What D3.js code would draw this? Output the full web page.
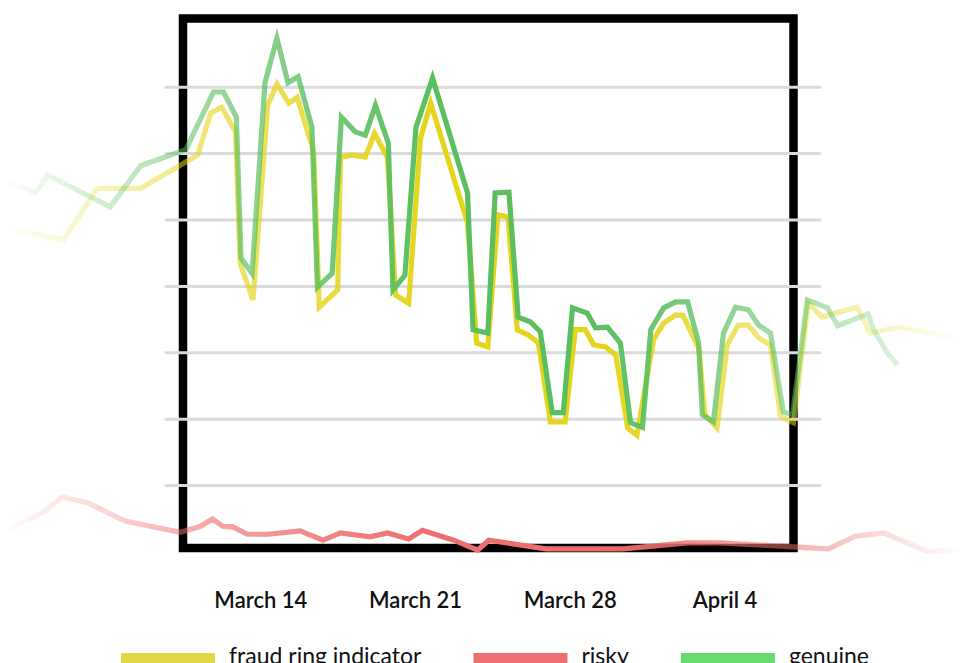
<!DOCTYPE html>
<html>
<head>
<meta charset="utf-8">
<script src="https://cdn.jsdelivr.net/npm/d3@7"></script>
<style>
  body { margin: 0; background: #fff; }
  svg { display: block; font-family: Lato, "Noto Sans", sans-serif; }
</style>
</head>
<body>
<div id="chart"></div>
<script>
// timestamps are "MM-DD HH" (2022), values on a 0-800 scale
var fraudTimes = ["03-02 13","03-05 02","03-06 15","03-08 14","03-11 04","03-11 18","03-12 06","03-12 21","03-13 02","03-13 16",
    "03-14 08","03-14 18","03-15 07","03-15 16","03-16 10","03-16 16","03-17 12","03-17 15","03-18 04","03-18 18",
    "03-19 04","03-19 18","03-20 03","03-20 17","03-21 06","03-21 17","03-23 09","03-23 19","03-24 07","03-24 18",
    "03-25 05","03-25 15","03-26 03","03-26 14","03-27 03","03-27 19","03-28 06","03-28 17","03-29 02","03-29 15",
    "03-30 02","03-30 15","03-31 01","03-31 19","04-01 06","04-01 19","04-02 03","04-02 20","04-03 03","04-03 16",
    "04-04 03","04-04 15","04-05 02","04-05 13","04-06 02","04-06 13","04-07 03","04-07 19","04-08 10","04-10 00",
    "04-10 14","04-11 23","04-13 18","04-14 23"];
var fraudValues = [487,469,547,547,597,660,669,632,434,379,
    672,704,675,684,602,368,394,594,597,594,
    630,593,386,374,623,675,495,314,308,507,
    504,334,326,314,195,195,334,334,311,308,
    296,186,175,319,344,356,356,306,206,186,
    311,341,341,322,311,203,194,374,353,368,
    329,338,326,319];

var genuineTimes = ["03-02 11","03-03 20","03-04 09","03-07 05","03-08 14","03-10 15","03-11 21","03-12 08","03-12 22","03-13 03",
    "03-13 15","03-14 05","03-14 18","03-15 06","03-15 17","03-16 08","03-16 14","03-17 06","03-17 16","03-18 07",
    "03-18 18","03-19 05","03-19 19","03-20 00","03-20 13","03-21 01","03-21 19","03-23 09","03-23 15","03-24 07",
    "03-24 15","03-25 06","03-25 16","03-26 05","03-26 16","03-27 05","03-27 17","03-28 03","03-28 19","03-29 04",
    "03-29 17","03-30 07","03-30 18","03-31 07","03-31 16","04-01 06","04-01 19","04-02 08","04-02 20","04-03 00",
    "04-03 12","04-03 23","04-04 12","04-05 02","04-05 13","04-06 02","04-06 16","04-07 02","04-07 18","04-08 16",
    "04-09 03","04-10 12","04-10 18","04-11 09","04-11 20"];
var genuineValues = [559,540,567,519,581,605,692,692,654,442,
    419,706,773,706,715,639,398,419,654,632,
    627,672,615,394,416,639,713,540,334,329,
    540,541,353,346,331,209,209,367,359,337,
    338,314,194,187,334,367,376,376,314,206,
    195,329,368,364,341,329,210,206,379,367,
    340,358,334,299,281];

var riskyTimes = ["03-02 11","03-04 03","03-05 01","03-06 05","03-07 21","03-10 09","03-11 07","03-11 20","03-12 07","03-12 18",
    "03-13 10","03-14 08","03-15 19","03-16 20","03-17 15","03-18 23","03-19 18","03-20 17","03-21 08","03-22 18",
    "03-23 20","03-24 08","03-26 22","03-30 10","04-02 08","04-03 20","04-07 03","04-08 17","04-09 22","04-11 05",
    "04-13 04","04-14 23"];
var riskyValues = [32,58,82,73,46,29,38,49,38,37,
    26,26,31,17,28,22,28,19,32,17,
    2,17,4,4,13,13,7,4,23,28,
    0,2];

var tickDates = ["03-14 00","03-21 00","03-28 00","04-04 00"];
var gridValues = [100,200,300,400,500,600,700];
var seriesNames = ["fraud ring indicator", "risky", "genuine"];

var width = 966, height = 663;
var frame = {left: 183, right: 793.5, top: 18.5, bottom: 548};

var parseTime = function (s) { return d3.timeParse("%Y-%m-%d %H")("2022-" + s); };

var svg = d3.select("#chart").append("svg")
    .attr("width", width)
    .attr("height", height);

var x = d3.scaleTime()
    .domain([parseTime("03-10 12"), parseTime("04-07 03")])
    .range([frame.left, frame.right]);
var y = d3.scaleLinear()
    .domain([0, 800])
    .range([551.5, 20.3]);

var series = [
    {name: seriesNames[0], times: fraudTimes, values: fraudValues, line: "#e4d51b", key: "#e2d744"},
    {name: seriesNames[1], times: riskyTimes, values: riskyValues, line: "#ee6e6e", key: "#ee6f6f"},
    {name: seriesNames[2], times: genuineTimes, values: genuineValues, line: "#5bbf5f", key: "#66dc6e"}
];

// lines fade out towards both edges of the picture
var fade = [[0, 0], [0.114, 0.3], [0.22, 0.62], [0.352, 0.86], [0.445, 1], [0.62, 1],
    [0.686, 0.88], [0.76, 0.66], [0.836, 0.5], [0.93, 0.2], [1, 0]];
var defs = svg.append("defs");
series.forEach(function (s, i) {
    var g = defs.append("linearGradient")
        .attr("id", "fade" + i)
        .attr("gradientUnits", "userSpaceOnUse")
        .attr("x1", 0).attr("x2", width)
        .attr("y1", 0).attr("y2", 0);
    fade.forEach(function (f) {
        g.append("stop")
            .attr("offset", f[0])
            .attr("stop-color", s.line)
            .attr("stop-opacity", f[1]);
    });
});

// frame
svg.append("rect")
    .attr("x", frame.left)
    .attr("y", frame.top)
    .attr("width", frame.right - frame.left)
    .attr("height", frame.bottom - frame.top)
    .attr("fill", "none")
    .attr("stroke", "#000")
    .attr("stroke-width", 8.5);

// gridlines
var grid = svg.append("g")
    .attr("transform", "translate(166,0)")
    .call(d3.axisLeft(y).tickValues(gridValues).tickSize(-(820 - 166)).tickFormat(""));
grid.select(".domain").remove();
grid.selectAll("line")
    .attr("stroke", "#dadada")
    .attr("stroke-width", 3)
    .attr("stroke-linecap", "round");

var valueLine = d3.line()
    .x(function (d) { return x(d.t); })
    .y(function (d) { return y(d.v); });

// draw risky first, then fraud, then genuine on top
[1, 0, 2].forEach(function (i) {
    var s = series[i];
    var data = s.times.map(function (t, j) { return {t: parseTime(t), v: s.values[j]}; });
    svg.append("path")
        .datum(data)
        .attr("fill", "none")
        .attr("stroke", "url(#fade" + i + ")")
        .attr("stroke-width", 5.2)
        .attr("d", valueLine);
});

// x axis labels
var xAxis = svg.append("g")
    .attr("transform", "translate(0,608)")
    .call(d3.axisBottom(x)
        .tickValues(tickDates.map(parseTime))
        .tickFormat(d3.timeFormat("%B %-d"))
        .tickSize(0));
xAxis.select(".domain").remove();
xAxis.selectAll("text")
    .attr("y", 0)
    .attr("dy", 0)
    .attr("fill", "#111")
    .style("font-family", "Lato, sans-serif")
    .style("font-size", "22px")
    .style("font-weight", 600);

// legend
var legend = svg.append("g").attr("transform", "translate(121,658)");
var lx = 0;
series.forEach(function (s) {
    var item = legend.append("g").attr("transform", "translate(" + lx + ",0)");
    item.append("rect")
        .attr("x", 0).attr("y", -5)
        .attr("width", 94).attr("height", 11)
        .attr("fill", s.key);
    var t = item.append("text")
        .attr("x", 108)
        .attr("y", 6)
        .attr("fill", "#111")
        .style("font-size", "23px")
        .text(s.name);
    lx += 108 + t.node().getComputedTextLength() + 52;
});
</script>
</body>
</html>
